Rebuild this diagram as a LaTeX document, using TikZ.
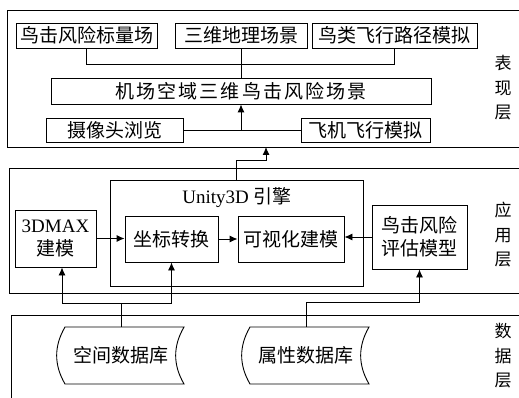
\documentclass[tikz,border=0pt]{standalone}
\usepackage{fontspec}
\setmainfont{Liberation Serif}
\newfontfamily\cjk{Noto Sans CJK SC}
\newfontfamily\cjkwide[LetterSpace=11]{Noto Sans CJK SC}
\usetikzlibrary{arrows.meta,calc}
\begin{document}
\begin{tikzpicture}[x=1pt,y=-1pt,line width=0.9pt,
  box/.style={draw, inner sep=0pt, font=\fontsize{19}{23}\cjk, align=center},
  layer/.style={draw, inner sep=0pt, anchor=north west, minimum width=530pt},
  arr/.style={-{Latex[length=8pt,width=7pt]}},
  side/.style={font=\fontsize{17}{24.5}\cjk, align=center},
  dbnode/.style={inner sep=0pt, minimum width=120pt, minimum height=57pt, font=\fontsize{19}{23}\cjk}]
\useasboundingbox (0,0) rectangle (519,398);
% layers
\node[layer, minimum height=137pt] (pres) at (7,10) {};
\node[layer, minimum height=125pt] (app) at (9,168) {};
\node[layer, minimum height=110pt] (data) at (11,315) {};
\node[side] (l1) at (503,88) {表\\现\\层};
\node[side] (l2) at (503,235) {应\\用\\层};
\node[side] (l3) at (503,356) {数\\据\\层};
% presentation layer
\node[box, minimum width=141pt, minimum height=25pt] (n1) at (86.5,35.5) {鸟击风险标量场};
\node[box, minimum width=132pt, minimum height=25pt] (n2) at (241,35.5) {三维地理场景};
\node[box, minimum width=165pt, minimum height=25pt] (n3) at (394.5,35.5) {鸟类飞行路径模拟};
\node[box, minimum width=380pt, minimum height=26pt, font=\fontsize{19}{23}\cjkwide] (main) at (241,91) {机场空域三维鸟击风险场景};
\node[box, minimum width=137pt, minimum height=24pt] (cam) at (114.5,130) {摄像头浏览};
\node[box, minimum width=129pt, minimum height=24pt] (fly) at (365.5,130) {飞机飞行模拟};
\draw (n1.south) -- ++(0,16) -| (n3.south);
\draw (n2.south) -- (main.north);
\draw (cam.east) -- (fly.west);
\draw[arr] (main.south |- cam.east) -- (main.south);
% application layer
\node[draw, inner sep=0pt, minimum width=253pt, minimum height=106pt] (unity) at (236.5,233) {};
\node[font=\fontsize{19}{23}\selectfont] (ut) at (237,198) {Unity3D {\cjk 引擎}};
\node[box, minimum width=81pt, minimum height=57pt] (max) at (55.5,238.5) {{\rmfamily 3DMAX}\\建模};
\node[box, minimum width=93pt, minimum height=46pt] (zb) at (171.5,239) {坐标转换};
\node[box, minimum width=106pt, minimum height=46pt] (ks) at (291,239) {可视化建模};
\node[box, minimum width=95pt, minimum height=64pt] (pg) at (419.5,237) {鸟击风险\\评估模型};
\coordinate (pt) at (266,147);
\draw[arr] (unity.north) -- ++(0,-19) -| (pt);
\draw[arr] (max.east) -- (zb.west |- max.east);
\draw[arr] (zb.east) -- (ks.west);
\draw[arr] (pg.west) -- (ks.east |- pg.west);
% data layer
\node[dbnode] (db1) at (121,355.5) {空间数据库};
\node[dbnode] (db2) at (306,355.5) {属性数据库};
\foreach \d in {db1,db2}{
  \draw ($(\d)+(-56,-28.5)$) -- ($(\d)+(63,-28.5)$)
        to[bend right=30] ($(\d)+(63,28.5)$) -- ($(\d)+(-56,28.5)$)
        to[bend left=30] ($(\d)+(-56,-28.5)$) -- cycle;
}
\coordinate (j1) at (121,303);
\draw (db1.north) -- (j1);
\draw[arr] (j1) -| ([xshift=6.5pt]max.south);
\draw[arr] (j1) -| (zb.south);
\draw[arr] (db2.north) -- ++(0,-24) -| (pg.south);
\end{tikzpicture}
\end{document}
